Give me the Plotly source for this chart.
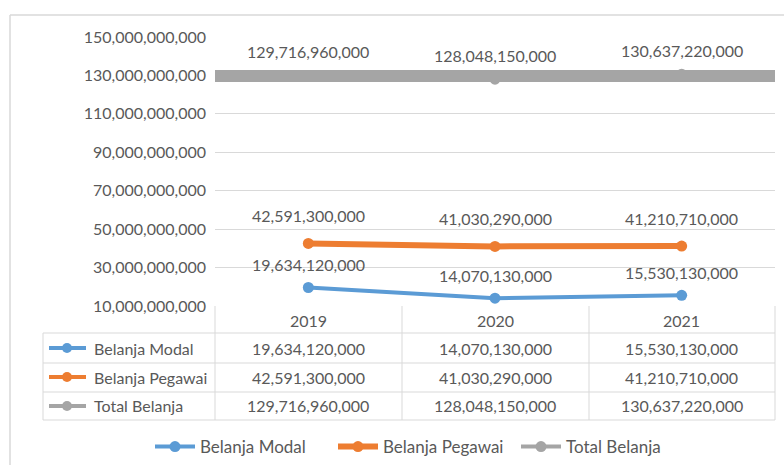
import plotly.graph_objects as go

years = ["2019", "2020", "2021"]
belanja_modal = [19634120000, 14070130000, 15530130000]
belanja_pegawai = [42591300000, 41030290000, 41210710000]
total_belanja = [129716960000, 128048150000, 130637220000]
series_names = ["Belanja Modal", "Belanja Pegawai", "Total Belanja"]
y_ticks = [10e9, 30e9, 50e9, 70e9, 90e9, 110e9, 130e9, 150e9]

colors = ["#5B9BD5", "#ED7D31", "#A5A5A5"]
widths = [4, 6, 4]
label_shift = [23, 28, 24]
TXT = "#595959"
GRID = "#D9D9D9"
FONT = "Lato"
FS = 16

W, H = 784, 465
PL, PR, PT, PB = 215, 775, 37, 306


def px_x(p):
    return (p - PL) / (PR - PL)


def px_y(p):
    return (PB - p) / (PB - PT)


fig = go.Figure()
all_series = [belanja_modal, belanja_pegawai, total_belanja]
for name, vals, c, w in zip(series_names, all_series, colors, widths):
    fig.add_trace(go.Scatter(
        x=years, y=vals, name=name, mode="lines+markers",
        line=dict(color=c, width=w), marker=dict(color=c, size=11),
        cliponaxis=False,
    ))

annotations = []
shapes = []
tfont = dict(family=FONT, size=FS, color=TXT)

# data labels
for vals, sh in zip(all_series, label_shift):
    for i, v in enumerate(vals):
        annotations.append(dict(x=i, y=v, xref="x", yref="y", text=f"{v:,}",
                                showarrow=False, yshift=sh, xanchor="center",
                                yanchor="middle", font=tfont))

# gray band over total series
shapes.append(dict(type="rect", xref="paper", yref="y", x0=0, x1=1,
                   y0=126.6e9, y1=132.8e9, fillcolor="#A5A5A5",
                   line=dict(width=0), layer="above"))

# data table
col_lines = [215, 402, 589, 775]
row_lines = [333, 363, 392, 420]
row_centers = [348, 377, 406]
for xp in col_lines:
    shapes.append(dict(type="line", xref="paper", yref="paper",
                       x0=px_x(xp), x1=px_x(xp), y0=px_y(306), y1=px_y(420),
                       line=dict(color=GRID, width=1)))
shapes.append(dict(type="line", xref="paper", yref="paper",
                   x0=px_x(43), x1=px_x(43), y0=px_y(333), y1=px_y(420),
                   line=dict(color=GRID, width=1)))
for yp in row_lines:
    shapes.append(dict(type="line", xref="paper", yref="paper",
                       x0=px_x(43), x1=px_x(775), y0=px_y(yp), y1=px_y(yp),
                       line=dict(color=GRID, width=1)))
for i, yr in enumerate(years):
    annotations.append(dict(x=i, y=px_y(320), xref="x", yref="paper", text=yr,
                            showarrow=False, xanchor="center", yanchor="middle",
                            font=tfont))
for name, vals, c, yc in zip(series_names, all_series, colors, row_centers):
    for i, v in enumerate(vals):
        annotations.append(dict(x=i, y=px_y(yc), xref="x", yref="paper",
                                text=f"{v:,}", showarrow=False,
                                xanchor="center", yanchor="middle", font=tfont))
    annotations.append(dict(x=px_x(92), y=px_y(yc), xref="paper", yref="paper",
                            text=name, showarrow=False, xanchor="left",
                            yanchor="middle", font=tfont))
    shapes.append(dict(type="line", xref="paper", yref="paper",
                       x0=px_x(49), x1=px_x(86), y0=px_y(yc), y1=px_y(yc),
                       line=dict(color=c, width=4)))
    shapes.append(dict(type="circle", xref="paper", yref="paper",
                       x0=px_x(62), x1=px_x(72), y0=px_y(yc + 5), y1=px_y(yc - 5),
                       fillcolor=c, line=dict(width=0)))

# outer chart border
shapes.append(dict(type="line", xref="paper", yref="paper",
                   x0=px_x(10), x1=px_x(790), y0=px_y(15), y1=px_y(15),
                   line=dict(color=GRID, width=1.5)))
shapes.append(dict(type="line", xref="paper", yref="paper",
                   x0=px_x(10), x1=px_x(10), y0=px_y(15), y1=px_y(470),
                   line=dict(color=GRID, width=1.5)))

fig.update_layout(
    width=W, height=H,
    margin=dict(l=PL, r=W - PR, t=PT, b=H - PB),
    paper_bgcolor="white", plot_bgcolor="white",
    font=dict(family=FONT, size=FS, color=TXT),
    xaxis=dict(type="category", range=[-0.5, 2.5], showticklabels=False,
               showgrid=False, zeroline=False, showline=False),
    yaxis=dict(range=[10e9, 150e9], tickvals=y_ticks,
               ticktext=[f"{int(v):,}" for v in y_ticks],
               showgrid=True, gridcolor=GRID, gridwidth=1, zeroline=False,
               showline=False, ticks="", ticklabelstandoff=8,
               tickfont=dict(family=FONT, size=FS, color=TXT)),
    legend=dict(orientation="h", xref="container", yref="container",
                x=150 / W, xanchor="left", y=(H - 447) / H, yanchor="middle",
                itemwidth=40, font=dict(family=FONT, size=17, color=TXT),
                entrywidth=128, entrywidthmode="pixels"),
    annotations=annotations,
    shapes=shapes,
    showlegend=True,
)

fig.write_html("out.html", config={"displayModeBar": False},
               post_script="document.body.style.margin='0';document.body.style.overflow='hidden';")
